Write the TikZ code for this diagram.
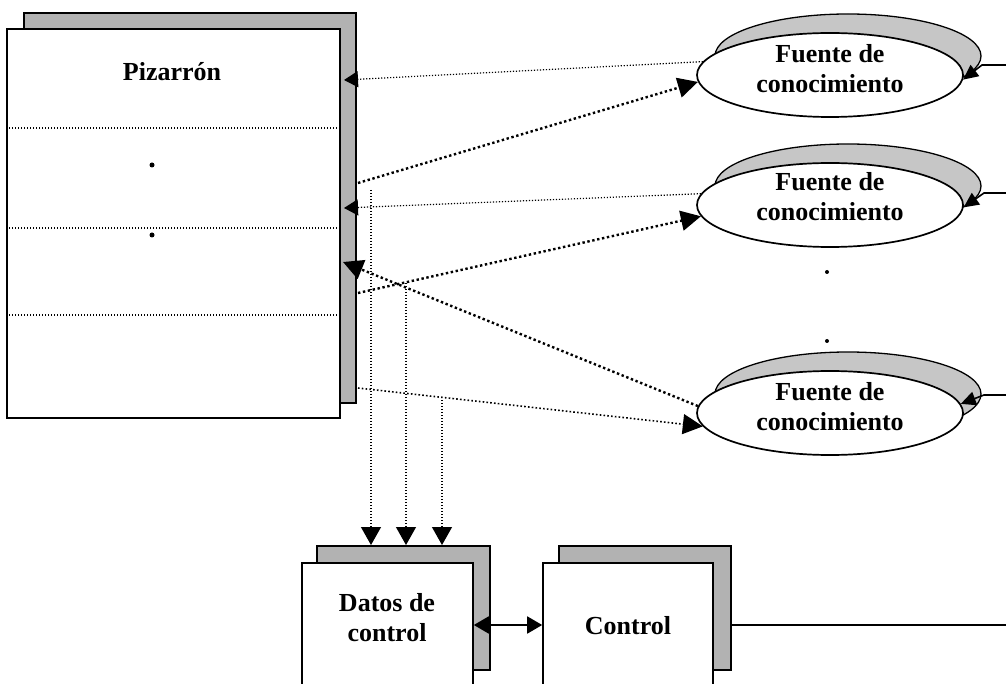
\documentclass[tikz,border=0pt]{standalone}
\usepackage{fontspec}
\setmainfont{Liberation Serif}
\usetikzlibrary{arrows.meta,shapes.geometric}
\begin{document}
\begin{tikzpicture}[x=1pt,y=-1pt,
  txt/.style={font=\fontsize{26}{30}\selectfont\bfseries, align=center, inner sep=0pt},
  boxshadow/.style={rectangle, draw=black, line width=2pt, fill=gray!60, inner sep=0pt},
  panel/.style={rectangle, draw=black, line width=1.6pt, fill=white, inner sep=0pt},
  srcshadow/.style={ellipse, draw=black, line width=1.3pt, fill=gray!45,
    minimum width=266pt, minimum height=84pt, inner sep=0pt},
  src/.style={ellipse, draw=black, line width=1.7pt, fill=white,
    minimum width=266pt, minimum height=84pt, inner sep=0pt},
  finedots/.style={line width=1.2pt, dash pattern=on 1.2pt off 1.8pt},
  middots/.style={line width=1.6pt, dash pattern=on 1.6pt off 2.2pt},
  heavydots/.style={line width=2.4pt, dash pattern=on 2.4pt off 2.6pt},
  bighead/.style={-{Triangle[length=20pt,width=20pt]}},
  smallhead/.style={-{Triangle[length=14pt,width=16pt]}},
  downhead/.style={-{Triangle[length=18pt,width=20pt]}},
  feedhead/.style={-{Triangle[length=15pt,width=14pt]}},
  dotmark/.style={circle, fill=black, inner sep=0pt, minimum size=5pt},
]
\useasboundingbox (0,0) rectangle (1006,684);
\clip (0,0) rectangle (1006,684);

% blackboard
\node[boxshadow, minimum width=332pt, minimum height=390pt] (pizsh) at (190,208) {};
\node[panel, minimum width=333pt, minimum height=389pt] (piz) at (173.5,223.5) {};
\node[txt] (piztitle) at (172,72) {Pizarrón};
\draw[finedots] (piz.west |- 0,128) -- (piz.east |- 0,128);
\draw[finedots] (piz.west |- 0,228) -- (piz.east |- 0,228);
\draw[finedots] (piz.west |- 0,315) -- (piz.east |- 0,315);
\node[dotmark] (pd1) at (152,165) {};
\node[dotmark] (pd2) at (152,235) {};

% knowledge sources
\node[srcshadow] (e1sh) at (848,56) {};
\node[src] (e1) at (830,75) {};
\node[txt] (t1) at (830,69) {Fuente de\\conocimiento};
\node[srcshadow] (e2sh) at (848,186) {};
\node[src] (e2) at (830,205) {};
\node[txt] (t2) at (830,197) {Fuente de\\conocimiento};
\node[srcshadow] (e3sh) at (848,394) {};
\node[src] (e3) at (830,413) {};
\node[txt] (t3) at (830,407) {Fuente de\\conocimiento};
\node[dotmark, minimum size=4pt] (ed1) at (827,272) {};
\node[dotmark, minimum size=4pt] (ed2) at (827,341) {};

% control data and control
\node[boxshadow, minimum width=173pt, minimum height=124pt] (datsh) at (403.5,608) {};
\node[panel, minimum width=171pt, minimum height=124pt] (dat) at (387.5,625) {};
\node[txt] (dattxt) at (387,618) {Datos de\\control};
\node[boxshadow, minimum width=172pt, minimum height=124pt] (ctlsh) at (645,608) {};
\node[panel, minimum width=170pt, minimum height=124pt] (ctl) at (628,625) {};
\node[txt] (ctltxt) at (628,626) {Control};

% blackboard <-> knowledge sources
\coordinate (p1) at (344,80);
\coordinate (q2) at (358,183);
\coordinate (p3) at (344,208);
\coordinate (q4) at (358,293);
\coordinate (p5) at (343,262);
\coordinate (q6) at (358,388);
\draw[finedots, smallhead] (e1.174.8) -- (p1);
\draw[heavydots, bighead] (q2) -- (e1.183.4);
\draw[finedots, smallhead] (e2.175.7) -- (p3);
\draw[heavydots, bighead] (q4) -- (e2.185.6);
\draw[heavydots, bighead] (e3.177.4) -- (p5);
\draw[middots, bighead] (q6) -- (e3.186);

% blackboard -> control data
\coordinate (v1) at (371,190);
\coordinate (v2) at (406,283);
\coordinate (v3) at (442,400);
\draw[finedots, downhead] (v1) -- (v1 |- datsh.north);
\draw[finedots, downhead] (v2) -- (v2 |- datsh.north);
\draw[finedots, downhead] (v3) -- (v3 |- datsh.north);

% control data <-> control
\draw[line width=1.8pt, {Triangle[length=15pt,width=17pt]}-{Triangle[length=15pt,width=17pt]}]
  (dat.east) -- (ctl.west);

% control -> knowledge sources
\coordinate (kc) at (1006,625);
\coordinate (k1) at (1006,65);
\coordinate (k2) at (1006,193);
\coordinate (k3) at (1006,395);
\draw[line width=1.8pt] (ctlsh.east |- ctl.east) -- (kc);
\draw[line width=1.6pt, feedhead] (k1) -- ++(-24,0) -- (e1.-2);
\draw[line width=1.6pt, feedhead] (k2) -- ++(-22,0) -- (e2.-1.5);
\draw[line width=1.6pt, feedhead] (k3) -- ++(-22,0) -- (e3.4);
\end{tikzpicture}
\end{document}
